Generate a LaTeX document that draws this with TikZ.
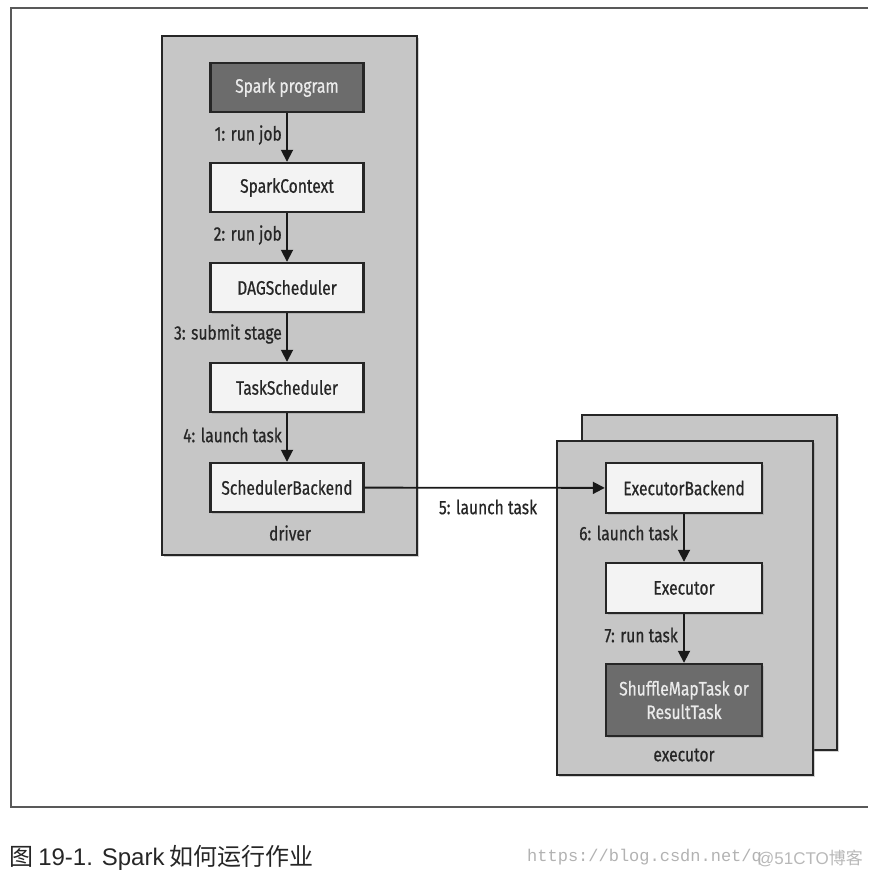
\documentclass[tikz,border=0pt]{standalone}
\usepackage{fontspec}
\setmainfont[FakeStretch=0.8, FakeBold=0.6]{Fira Sans}
\newfontfamily\cjk{Noto Sans CJK SC}
\newfontfamily\capfont{Liberation Sans}
\newfontfamily\wmfont{Liberation Mono}
\usetikzlibrary{shadows,arrows.meta}
\definecolor{panel}{HTML}{C6C6C6}
\definecolor{darkbox}{HTML}{6C6C6C}
\definecolor{litebox}{HTML}{F3F3F3}
\tikzset{
  panelbox/.style={draw=black!85, line width=2.6pt, fill=panel,
     drop shadow={shadow xshift=2pt, shadow yshift=-2pt, opacity=0.35}},
  stepbox/.style={draw=black!85, line width=2.4pt, fill=litebox, minimum width=153pt,
     minimum height=49pt, inner sep=0pt, font=\fontsize{19.5}{21}\selectfont, text=black!85,
     drop shadow={shadow xshift=1.5pt, shadow yshift=-1.5pt, opacity=0.3}},
  darkstep/.style={stepbox, fill=darkbox, text=white!92!black},
  flow/.style={line width=1.8pt, draw=black!90, -{Triangle[length=12pt,width=12pt]}},
  lbl/.style={font=\fontsize{19.5}{21}\selectfont, anchor=east, inner sep=0pt, text=black!85},
  plaintext/.style={font=\fontsize{19.5}{21}\selectfont, inner sep=0pt, text=black!85}
}
\begin{document}
\begin{tikzpicture}[x=1pt,y=-1pt]
\useasboundingbox (0,0) rectangle (868,877);
% outer frame (open on the right)
\draw[line width=2pt, draw=black!65] (868,8) -- (11,8) -- (11,807) -- (868,807);
% driver panel
\draw[panelbox] (162,36) rectangle (417,555);
% executor panels
\draw[panelbox] (582,415) rectangle (837,750);
\draw[panelbox] (557,441) rectangle (813,775);

% driver steps
\node[darkstep] (prog) at (287,87.5) {Spark program};
\node[stepbox] (sc) at (287,187.5) {SparkContext};
\node[stepbox] (dag) at (287,287.5) {DAGScheduler};
\node[stepbox] (ts) at (287,387.5) {TaskScheduler};
\node[stepbox] (sb) at (287,487.5) {SchedulerBackend};
\node[plaintext] (drv) at (290,533) {driver};

% executor steps
\node[stepbox, minimum width=156pt, minimum height=50pt] (eb) at (684,488) {ExecutorBackend};
\node[stepbox, minimum width=156pt, minimum height=50pt] (ex) at (684,588) {Executor};
\node[darkstep, minimum width=156pt, minimum height=72pt, align=center,
  font=\fontsize{19.5}{23.5}\selectfont] (task) at (684,700) {ShuffleMapTask or\\ResultTask};
\node[plaintext] (exl) at (684,755) {executor};

% connectors
\draw[flow] (prog) -- (sc);
\draw[flow] (sc) -- (dag);
\draw[flow] (dag) -- (ts);
\draw[flow] (ts) -- (sb);
\draw[flow] (sb) -- (eb);
\draw[flow] (eb) -- (ex);
\draw[flow] (ex) -- (task);

% labels
\node[lbl] (l1) at (282,135) {1: run job};
\node[lbl] (l2) at (282,235) {2: run job};
\node[lbl] (l3) at (282,334) {3: submit stage};
\node[lbl] (l4) at (282,435) {4: launch task};
\node[plaintext] (l5) at (488,507) {5: launch task};
\node[lbl] (l6) at (678,533) {6: launch task};
\node[lbl] (l7) at (678,635) {7: run task};

% caption
\node[anchor=west, inner sep=0pt, font=\fontsize{24}{27}\selectfont, text=black!85] (caption) at (9,858)
  {{\cjk 图} {\capfont 19-1. Spark} {\cjk 如何运行作业}};
\node[anchor=west, inner sep=0pt, font=\wmfont\fontsize{17}{20}\selectfont, text=black!30] (wm) at (527,857)
  {https://blog.csdn.net/q};
\node[anchor=west, inner sep=0pt, font=\fontsize{17}{20}\selectfont, text=black!28] (wm2) at (757,858)
  {{\capfont @51CTO}{\cjk 博客}};
\end{tikzpicture}
\end{document}
